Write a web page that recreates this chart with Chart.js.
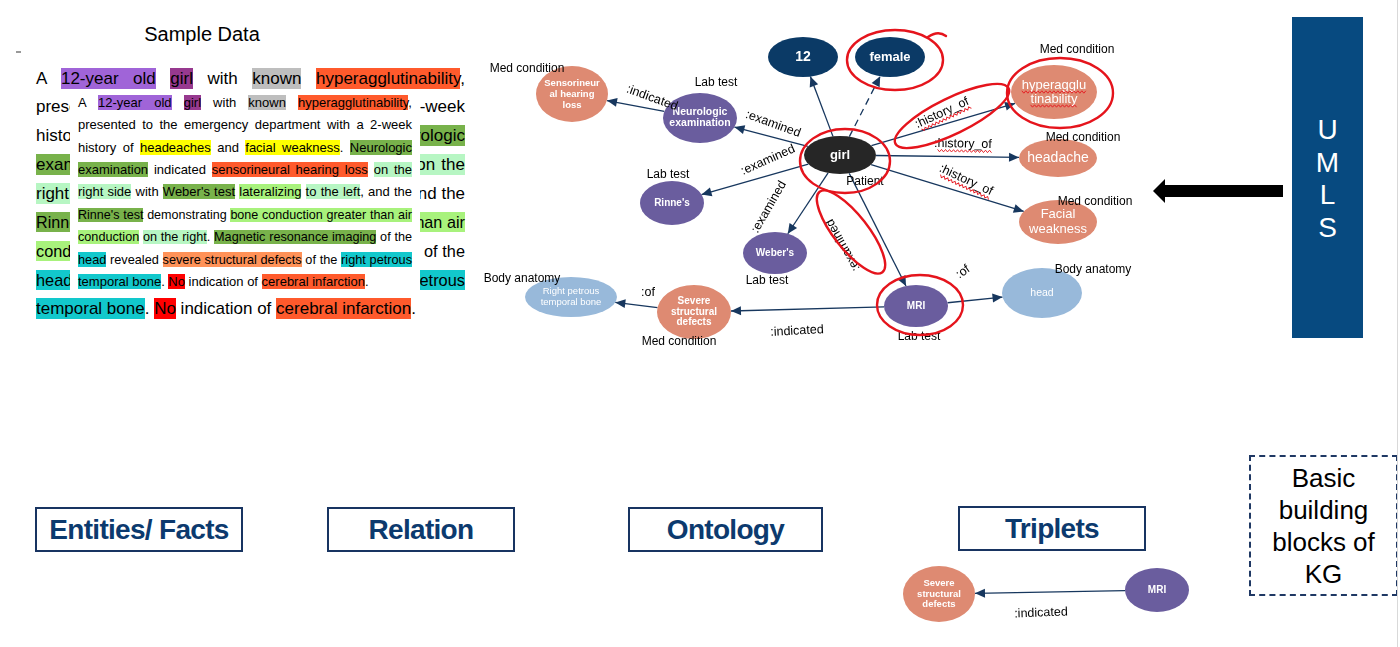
<!DOCTYPE html>
<html>
<head>
<meta charset="utf-8">
<script src="https://cdn.jsdelivr.net/npm/chart.js@4.4.1/dist/chart.umd.min.js"></script>
<style>
html, body { margin: 0; padding: 0; background: #fff; }
body { width: 1400px; height: 647px; position: relative; overflow: hidden; font-family: "Liberation Sans", Arial, sans-serif; color: #000; }
#chartBox { position: absolute; left: 0; top: 0; width: 1400px; height: 647px; z-index: 2; pointer-events: none; }
#title { position: absolute; left: 102px; width: 200px; top: 23px; text-align: center; font-size: 20px; }
.ln { position: absolute; text-align: justify; text-align-last: justify; white-space: nowrap; }
#smallBox { position: absolute; left: 70px; top: 91px; width: 350px; height: 202px; background: #fff; }
.p { background: #A064D8; } .m { background: #97398F; } .k { background: #BEBEBE; }
.o { background: #FF5A2C; } .y { background: #FFFF00; } .g { background: #78B24B; }
.l { background: #B7F6C3; } .L { background: #A8F27C; } .c { background: #12C8CC; }
.s { background: #FF9258; } .r { background: #FF0000; }
.big span { padding: 1px 0; }
.box { position: absolute; border: 2px solid #183461; color: #0C3A6E; font-weight: bold; font-size: 28px; letter-spacing: -0.7px; display: flex; align-items: center; justify-content: center; box-sizing: border-box; }
#umls { position: absolute; left: 1292px; top: 17px; width: 71px; height: 321px; background: #074A80; color: #fff; }
#umls div { position: absolute; left: 0; width: 71px; top: 97px; text-align: center; font-size: 28px; line-height: 32.5px; }
#shaft { position: absolute; left: 1164px; top: 185px; width: 119px; height: 12px; background: #000; }
#head { position: absolute; left: 1153px; top: 179px; width: 0; height: 0; border-right: 12px solid #000; border-top: 12px solid transparent; border-bottom: 12px solid transparent; }
#kgBox { position: absolute; left: 1249px; top: 455px; width: 149px; height: 141px; border: 2px dashed #1F3864; box-sizing: border-box; text-align: center; font-size: 26px; line-height: 32px; padding-top: 5px; }
#edge { position: absolute; left: 1397px; top: 0; width: 1px; height: 647px; background: #D9D9D9; }
#tick { position: absolute; left: 16px; top: 51px; width: 5px; height: 2px; background: #999; }
</style>
</head>
<body>
<div id="tick"></div>
<div id="title">Sample Data</div>
<div id="bigText" class="big"></div>
<div id="smallBox"></div>
<div id="smallText"></div>

<div class="box" style="left:35px;top:507px;width:208px;height:45px;">Entities/ Facts</div>
<div class="box" style="left:327px;top:507px;width:188px;height:45px;">Relation</div>
<div class="box" style="left:628px;top:507px;width:195px;height:45px;">Ontology</div>
<div class="box" style="left:958px;top:506px;width:188px;height:45px;">Triplets</div>

<div id="umls"><div>U<br>M<br>L<br>S</div></div>
<div id="shaft"></div><div id="head"></div>
<div id="kgBox">Basic<br>building<br>blocks of<br>KG</div>
<div id="edge"></div>

<div id="chartBox"><canvas id="kg"></canvas></div>

<script>
// sample sentence, one entry per printed line, with highlight classes
const sampleLines = [
  'A <span class="p">12-year old</span> <span class="m">girl</span> with <span class="k">known</span> <span class="o">hyperagglutinability</span>,',
  'presented to the emergency department with a 2-week',
  'history of <span class="y">headeaches</span> and <span class="y">facial weakness</span>. <span class="g">Neurologic</span>',
  '<span class="g">examination</span> indicated <span class="o">sensorineural hearing loss</span> <span class="l">on the</span>',
  '<span class="l">right side</span> with <span class="g">Weber\'s test</span> <span class="L">lateralizing</span> <span class="l">to the left</span>, and the',
  '<span class="g">Rinne\'s test</span> demonstrating <span class="L">bone conduction greater than air</span>',
  '<span class="L">conduction</span> <span class="l">on the right</span>. <span class="g">Magnetic resonance imaging</span> of the',
  '<span class="c">head</span> revealed <span class="s">severe structural defects</span> of the <span class="c">right petrous</span>',
  '<span class="c">temporal bone</span>. <span class="r">No</span> indication of <span class="o">cerebral infarction</span>.'
];

// knowledge graph nodes
const nodeLabels = ['12', 'female', 'girl', 'Neurologic\nexamination', 'Sensorineur\nal hearing\nloss', "Rinne's", "Weber's", 'MRI', 'head',
  'Severe\nstructural\ndefects', 'Right petrous\ntemporal bone', 'hyperagglu\ntinability', 'headache', 'Facial\nweakness',
  'Severe\nstructural\ndefects', 'MRI'];
const nodeX = [803, 890, 840, 700, 572, 672, 775, 916, 1042, 694, 571, 1054, 1058, 1058, 939, 1157];
const nodeY = [57, 57, 155, 118, 94, 203, 253, 306, 293, 312, 297, 92, 158, 222, 594, 590];
const nodeType = ['Value', 'Value', 'Patient', 'Lab test', 'Med condition', 'Lab test', 'Lab test', 'Lab test', 'Body anatomy',
  'Med condition', 'Body anatomy', 'Med condition', 'Med condition', 'Med condition', 'Med condition', 'Lab test'];

// relations (subject -> object)
const edgeFrom = [2, 2, 2, 3, 2, 2, 2, 2, 2, 2, 7, 7, 9, 15];
const edgeTo = [0, 1, 3, 4, 5, 6, 7, 11, 12, 13, 8, 9, 10, 14];
const edgeText = ['', '', ':examined', ':indicated', ':examined', ':examined', ':examined', ':history_of', ':history_of', ':history_of',
  ':of', ':indicated', ':of', ':indicated'];

// type captions next to nodes
const captionText = ['Med condition', 'Lab test', 'Patient', 'Lab test', 'Lab test', 'Lab test', 'Body anatomy', 'Med condition',
  'Body anatomy', 'Med condition', 'Med condition', 'Med condition'];

// ---- layout / style ----
const typeColor = { 'Value': '#0B3A66', 'Patient': '#262626', 'Lab test': '#6A5D9E', 'Med condition': '#DE8A72', 'Body anatomy': '#98B9DA' };
const nodeSize = [[35, 20], [35, 20], [36, 19], [37, 25], [36, 28], [32, 22], [32, 21], [32, 21], [40, 25], [37, 27], [46, 20], [43, 27], [39, 19], [39, 22], [36, 28], [32, 22]];
const nodeFont = ['bold 14px', 'bold 13px', 'bold 13px', 'bold 10.5px', 'bold 9.5px', 'bold 10px', 'bold 10px', 'bold 10px', '10.5px',
  'bold 10px', '9.5px', '13px', '14px', '13px', 'bold 9.5px', 'bold 10px'];
const nodeLH = [14, 14, 14, 11, 11, 11, 11, 11, 11, 10.5, 11, 14, 14, 15, 10.5, 11];
const edgeLabelAt = [null, null, [773, 124, 20], [652, 98, 20], [768, 160, -24], [769, 207, -60], [843, 245, 241],
  [942, 113, -25], [963, 144, 1], [966, 180, 25], [963, 272, -35], [797, 331, -3], [648, 293, 0], [1041, 613, -2]];
const captionAt = [[527, 69], [716, 83], [865, 182], [668, 175], [767, 281], [919, 337], [522, 279], [679, 342],
  [1093, 270], [1077, 50], [1083, 138], [1095, 202]];
const redLoops = [[895, 60, 48, 30, 0], [845, 161, 45, 32, 0], [952, 116, 63, 18, -26], [1060, 93, 53, 35, 0], [851, 232, 51, 17, 52], [920, 305, 43, 30, 0]];
const EDGE = '#17375E';
const RED = '#E5141C';
const FONT = '"Liberation Sans", Arial, sans-serif';

// ---- text blocks ----
function buildText(id, left, top, width, lh, fs) {
  const box = document.getElementById(id);
  sampleLines.forEach((html, i) => {
    const d = document.createElement('div');
    d.className = 'ln';
    d.style.cssText = `left:${left}px;top:${top + i * lh}px;height:${lh}px;line-height:${lh}px;font-size:${fs}px;`;
    d.innerHTML = html;
    box.appendChild(d);
    const natural = d.getBoundingClientRect().width;
    if (natural > width) d.style.fontSize = (fs * width / natural - 0.05) + 'px';
    d.style.width = width + 'px';
    d.style.whiteSpace = 'normal';
    if (i === sampleLines.length - 1) d.style.textAlignLast = 'left';
  });
}
buildText('bigText', 36, 64.6, 429, 28.75, 17);
buildText('smallText', 78, 91.8, 334, 22.4, 13);

// ---- graph data for the chart ----
function clipPoint(i, dx, dy) {
  const [rx, ry] = nodeSize[i];
  const t = 1 / Math.sqrt((dx / rx) ** 2 + (dy / ry) ** 2);
  return { x: nodeX[i] + dx * t, y: nodeY[i] + dy * t };
}

const edgeDatasets = edgeFrom.map((f, k) => {
  const t = edgeTo[k];
  const dx = nodeX[t] - nodeX[f], dy = nodeY[t] - nodeY[f];
  return {
    type: 'line',
    kind: 'edge',
    data: [clipPoint(f, dx, dy), clipPoint(t, -dx, -dy)],
    borderColor: EDGE,
    borderWidth: 1.3,
    borderDash: nodeLabels[t] === 'female' ? [7, 5] : [],
    pointRadius: 0,
    showLine: true,
    fill: false
  };
});

const nodeDataset = {
  type: 'scatter',
  kind: 'node',
  data: nodeX.map((x, i) => ({ x: x, y: nodeY[i] })),
  pointRadius: 0
};

function squiggle(ctx, x0, x1, y) {
  ctx.save();
  ctx.strokeStyle = RED;
  ctx.lineWidth = 0.9;
  ctx.beginPath();
  let up = true;
  for (let x = x0; x <= x1; x += 2) {
    const yy = y + (up ? -1.2 : 1.2);
    if (x === x0) ctx.moveTo(x, yy); else ctx.lineTo(x, yy);
    up = !up;
  }
  ctx.stroke();
  ctx.restore();
}

const kgPlugin = {
  id: 'kgPlugin',
  afterDatasetsDraw(chart) {
    const ctx = chart.ctx;
    const sx = chart.scales.x, sy = chart.scales.y;
    const px = v => sx.getPixelForValue(v), py = v => sy.getPixelForValue(v);

    // nodes
    const nodeIdx = chart.data.datasets.findIndex(d => d.kind === 'node');
    chart.getDatasetMeta(nodeIdx).data.forEach((pt, i) => {
      const [rx, ry] = nodeSize[i];
      ctx.save();
      ctx.beginPath();
      ctx.ellipse(pt.x, pt.y, rx, ry, 0, 0, Math.PI * 2);
      ctx.fillStyle = typeColor[nodeType[i]];
      ctx.fill();
      ctx.fillStyle = '#fff';
      ctx.font = nodeFont[i] + ' ' + FONT;
      ctx.textAlign = 'center';
      ctx.textBaseline = 'middle';
      const lines = nodeLabels[i].split('\n');
      lines.forEach((s, j) => {
        const y = pt.y + (j - (lines.length - 1) / 2) * nodeLH[i];
        ctx.fillText(s, pt.x, y);
        if (nodeLabels[i].startsWith('hyperagglu')) {
          const w = ctx.measureText(s).width;
          squiggle(ctx, pt.x - w / 2, pt.x + w / 2, y + 7);
        }
      });
      ctx.restore();
    });

    // arrow heads
    chart.data.datasets.forEach((ds, i) => {
      if (ds.kind !== 'edge') return;
      const [a, b] = chart.getDatasetMeta(i).data;
      const ang = Math.atan2(b.y - a.y, b.x - a.x);
      ctx.save();
      ctx.translate(b.x, b.y);
      ctx.rotate(ang);
      ctx.beginPath();
      ctx.moveTo(0, 0);
      ctx.lineTo(-10, -4.5);
      ctx.lineTo(-10, 4.5);
      ctx.closePath();
      ctx.fillStyle = EDGE;
      ctx.fill();
      ctx.restore();
    });

    // relation labels
    ctx.font = '12.5px ' + FONT;
    edgeText.forEach((t, k) => {
      if (!t) return;
      const [x, y, a] = edgeLabelAt[k];
      ctx.save();
      ctx.translate(px(x), py(y));
      ctx.rotate(a * Math.PI / 180);
      ctx.fillStyle = '#000';
      ctx.textAlign = 'center';
      ctx.textBaseline = 'middle';
      ctx.fillText(t, 0, 0);
      if (t.indexOf('history') >= 0) {
        const w = ctx.measureText(t).width, c = ctx.measureText(':').width;
        squiggle(ctx, -w / 2 + c, w / 2, 7);
      }
      ctx.restore();
    });

    // type captions
    ctx.save();
    ctx.font = '12px ' + FONT;
    ctx.fillStyle = '#000';
    ctx.textAlign = 'center';
    ctx.textBaseline = 'middle';
    captionText.forEach((t, k) => ctx.fillText(t, px(captionAt[k][0]), py(captionAt[k][1])));
    ctx.restore();

    // hand-drawn red marks
    ctx.save();
    ctx.strokeStyle = RED;
    ctx.lineWidth = 2.4;
    ctx.lineCap = 'round';
    ctx.lineJoin = 'round';
    redLoops.forEach(([x, y, rx, ry, r]) => {
      ctx.beginPath();
      ctx.ellipse(px(x), py(y), rx, ry, r * Math.PI / 180, 0, Math.PI * 2);
      ctx.stroke();
    });
    // little hook on the "female" loop
    ctx.beginPath();
    ctx.moveTo(px(928), py(37));
    ctx.quadraticCurveTo(px(938), py(30), px(946), py(36));
    ctx.stroke();
    ctx.restore();
  }
};

new Chart(document.getElementById('kg'), {
  type: 'scatter',
  data: { datasets: [...edgeDatasets, nodeDataset] },
  options: {
    responsive: true,
    maintainAspectRatio: false,
    animation: false,
    layout: { padding: 0 },
    plugins: { legend: { display: false }, tooltip: { enabled: false } },
    scales: {
      x: { type: 'linear', min: 0, max: 1400, display: false },
      y: { type: 'linear', min: 0, max: 647, reverse: true, display: false }
    }
  },
  plugins: [kgPlugin]
});
</script>
</body>
</html>
